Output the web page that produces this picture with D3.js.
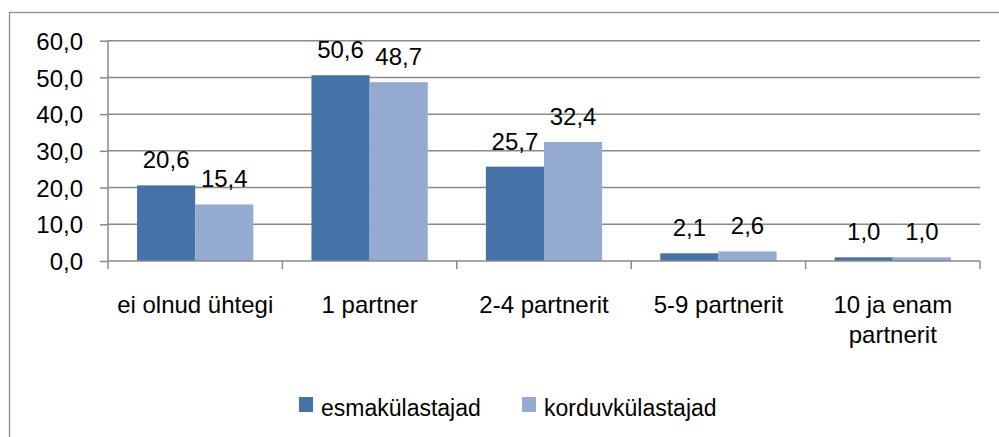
<!DOCTYPE html>
<html>
<head>
  <meta charset="utf-8">
  <script src="https://d3js.org/d3.v7.min.js"></script>
  <style>
    body { margin: 0; background: #fff; }
    text { font-family: "Liberation Sans", Arial, sans-serif; fill: #000; }
  </style>
</head>
<body>
<script>
  // categories and values
  var categories = ["ei olnud ühtegi", "1 partner", "2-4 partnerit", "5-9 partnerit", "10 ja enam partnerit"];
  var seriesNames = ["esmakülastajad", "korduvkülastajad"];
  var esma = [20.6, 50.6, 25.7, 2.1, 1.0];
  var kordu = [15.4, 48.7, 32.4, 2.6, 1.0];
  var yTicks = [0, 10, 20, 30, 40, 50, 60];
  var colors = ["#4673A7", "#94AAD0"];

  var W = 999, H = 437;
  // plot area edges (not named "top": that clashes with window.top)
  var plotL = 108, plotR = 980, plotT = 40.7, plotB = 261;
  var fontSize = 24, legendFont = 23;

  var svg = d3.select("body").append("svg")
      .attr("width", W)
      .attr("height", H);

  // outer chart border (runs off the right and bottom edge)
  svg.append("rect")
      .attr("x", 9.5).attr("y", 12.5)
      .attr("width", 1100).attr("height", 600)
      .style("fill", "none")
      .style("stroke", "#8c8c8c")
      .style("stroke-width", 1.3);

  var x0 = d3.scaleBand().domain(categories).range([plotL, plotR]).padding(0);
  var x1 = d3.scaleBand().domain(seriesNames).range([0, x0.bandwidth()])
      .paddingInner(0).paddingOuter(0.5);
  var y = d3.scaleLinear().domain([0, 60]).range([plotB, plotT]);

  // gridlines
  svg.append("g").selectAll("line")
      .data(yTicks.filter(function (d) { return d > 0; }))
      .enter().append("line")
      .attr("x1", plotL).attr("x2", plotR)
      .attr("y1", function (d) { return y(d); })
      .attr("y2", function (d) { return y(d); })
      .style("stroke", "#8a8a8a")
      .style("stroke-width", 1.5);

  // y axis
  var yAxis = d3.axisLeft(y).tickValues(yTicks).tickSize(8).tickPadding(17)
      .tickFormat(function (d) { return d3.format(".1f")(d).replace(".", ","); });
  var gy = svg.append("g").attr("transform", "translate(" + plotL + ",0)").call(yAxis);
  gy.selectAll("path, line").style("stroke", "#8a8a8a").style("stroke-width", 1.5);
  gy.select(".domain").attr("d", "M0," + plotT + "V" + plotB);
  gy.selectAll("text").style("font-size", fontSize + "px")
      .style("font-family", "\"Liberation Sans\", Arial, sans-serif")
      .attr("dy", "0.36em");

  // bars
  var rows = categories.map(function (c, i) { return { cat: c, vals: [esma[i], kordu[i]] }; });
  var groups = svg.append("g").selectAll("g")
      .data(rows).enter().append("g")
      .attr("transform", function (d) { return "translate(" + x0(d.cat) + ",0)"; });

  groups.selectAll("rect")
      .data(function (d) { return d.vals.map(function (v, j) { return { s: seriesNames[j], v: v, j: j }; }); })
      .enter().append("rect")
      .attr("x", function (d) { return x1(d.s); })
      .attr("width", x1.bandwidth())
      .attr("y", function (d) { return y(d.v); })
      .attr("height", function (d) { return plotB - y(d.v); })
      .style("fill", function (d) { return colors[d.j]; });

  groups.selectAll("text.val")
      .data(function (d) { return d.vals.map(function (v, j) { return { s: seriesNames[j], v: v }; }); })
      .enter().append("text")
      .attr("class", "val")
      .attr("x", function (d) { return x1(d.s) + x1.bandwidth() / 2; })
      .attr("y", function (d) { return y(d.v) - 17; })
      .attr("text-anchor", "middle")
      .style("font-size", fontSize + "px")
      .text(function (d) { return d3.format(".1f")(d.v).replace(".", ","); });

  // x axis
  var xa = svg.append("g");
  xa.append("line")
      .attr("x1", plotL).attr("x2", plotR).attr("y1", plotB).attr("y2", plotB)
      .style("stroke", "#8a8a8a").style("stroke-width", 1.5);
  xa.selectAll("line.tick")
      .data(categories.concat(["end"]))
      .enter().append("line")
      .attr("class", "tick")
      .attr("x1", function (d, i) { return plotL + i * x0.bandwidth(); })
      .attr("x2", function (d, i) { return plotL + i * x0.bandwidth(); })
      .attr("y1", plotB).attr("y2", plotB + 8)
      .style("stroke", "#8a8a8a").style("stroke-width", 1.5);

  xa.selectAll("text.cat")
      .data(categories).enter().append("text")
      .attr("class", "cat")
      .attr("x", function (d) { return x0(d) + x0.bandwidth() / 2; })
      .attr("y", 313)
      .attr("text-anchor", "middle")
      .style("font-size", fontSize + "px")
      .text(function (d) { return d; })
      .each(function () { wrap(d3.select(this), x0.bandwidth() - 6); });

  function wrap(t, width) {
    var words = t.text().split(" "), line = [], lines = [];
    t.text(null);
    var probe = t.append("tspan");
    words.forEach(function (w) {
      line.push(w);
      probe.text(line.join(" "));
      if (probe.node().getComputedTextLength() > width && line.length > 1) {
        line.pop();
        lines.push(line.join(" "));
        line = [w];
      }
    });
    lines.push(line.join(" "));
    probe.remove();
    lines.forEach(function (l, i) {
      t.append("tspan").attr("x", t.attr("x")).attr("dy", i === 0 ? 0 : 30).text(l);
    });
  }

  // legend
  var legendX = [299, 522];
  var legend = svg.append("g").selectAll("g")
      .data(seriesNames).enter().append("g")
      .attr("transform", function (d, i) { return "translate(" + legendX[i] + ",397)"; });
  legend.append("rect")
      .attr("width", 14).attr("height", 15)
      .style("fill", function (d, i) { return colors[i]; });
  legend.append("text")
      .attr("x", 22).attr("y", 19)
      .style("font-size", legendFont + "px")
      .text(function (d) { return d; });
</script>
</body>
</html>
